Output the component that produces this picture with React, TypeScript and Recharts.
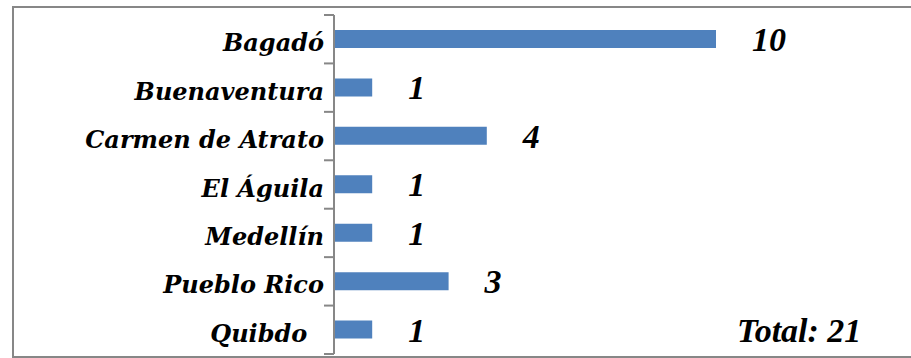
import { BarChart, Bar, XAxis, YAxis, LabelList } from "recharts";

const municipios = [
  "Bagadó",
  "Buenaventura",
  "Carmen de Atrato",
  "El Águila",
  "Medellín",
  "Pueblo Rico",
  "Quibdo  ",
];
const casos = [10, 1, 4, 1, 1, 3, 1];

const data = municipios.map((name, i) => ({ name, value: casos[i] }));
const total = casos.reduce((a, b) => a + b, 0);

const W = 911;
const H = 358;
const AXIS_X = 334;
const PLOT_TOP = 15;
const PLOT_BOTTOM = 4;
const BAND = (H - PLOT_TOP - PLOT_BOTTOM) / municipios.length;
const GRAY = "#878787";

function CategoryTick(props: any) {
  const { y, payload, index } = props;
  const last = index === municipios.length - 1;
  return (
    <g>
      <text
        x={AXIS_X - 10}
        y={y}
        dy={12}
        textAnchor="end"
        fill="#000"
        style={{
          fontFamily: "'DejaVu Serif', serif",
          fontWeight: "bold",
          fontStyle: "italic",
          fontSize: 24,
          whiteSpace: "pre",
        }}
      >
        {payload.value}
      </text>
      <line x1={AXIS_X - 10} x2={AXIS_X} y1={y - BAND / 2} y2={y - BAND / 2} stroke={GRAY} strokeWidth={2} />
      {last && (
        <line x1={AXIS_X - 10} x2={AXIS_X} y1={y + BAND / 2} y2={y + BAND / 2} stroke={GRAY} strokeWidth={2} />
      )}
    </g>
  );
}

export default function App() {
  return (
    <div
      style={{
        position: "absolute",
        left: 0,
        top: 0,
        width: W,
        height: H,
        overflow: "hidden",
        background: "#fff",
      }}
    >
      <div
        style={{
          position: "absolute",
          left: 12,
          top: 6,
          width: 905,
          height: 352,
          boxSizing: "border-box",
          border: `2px solid ${GRAY}`,
        }}
      />
      <div style={{ position: "absolute", left: 0, top: 0 }}>
        <BarChart
          width={W}
          height={H}
          data={data}
          layout="vertical"
          margin={{ top: PLOT_TOP, right: 195, bottom: PLOT_BOTTOM, left: 0 }}
        >
          <XAxis type="number" domain={[0, 10]} hide />
          <YAxis
            type="category"
            dataKey="name"
            width={AXIS_X}
            axisLine={{ stroke: GRAY, strokeWidth: 2 }}
            tickLine={false}
            tick={<CategoryTick />}
            interval={0}
          />
          <Bar dataKey="value" fill="#4F81BD" barSize={18} isAnimationActive={false}>
            <LabelList
              dataKey="value"
              position="right"
              offset={36}
              fill="#000"
              style={{
                fontFamily: "'Liberation Serif', serif",
                fontWeight: "bold",
                fontStyle: "italic",
                fontSize: 34,
              }}
            />
          </Bar>
        </BarChart>
      </div>
      <svg
        width={W}
        height={H}
        style={{ position: "absolute", left: 0, top: 0, pointerEvents: "none" }}
      >
        <text
          x={737}
          y={342}
          fill="#000"
          style={{
            fontFamily: "'Liberation Serif', serif",
            fontWeight: "bold",
            fontStyle: "italic",
            fontSize: 34,
          }}
        >
          {`Total: ${total}`}
        </text>
      </svg>
    </div>
  );
}
